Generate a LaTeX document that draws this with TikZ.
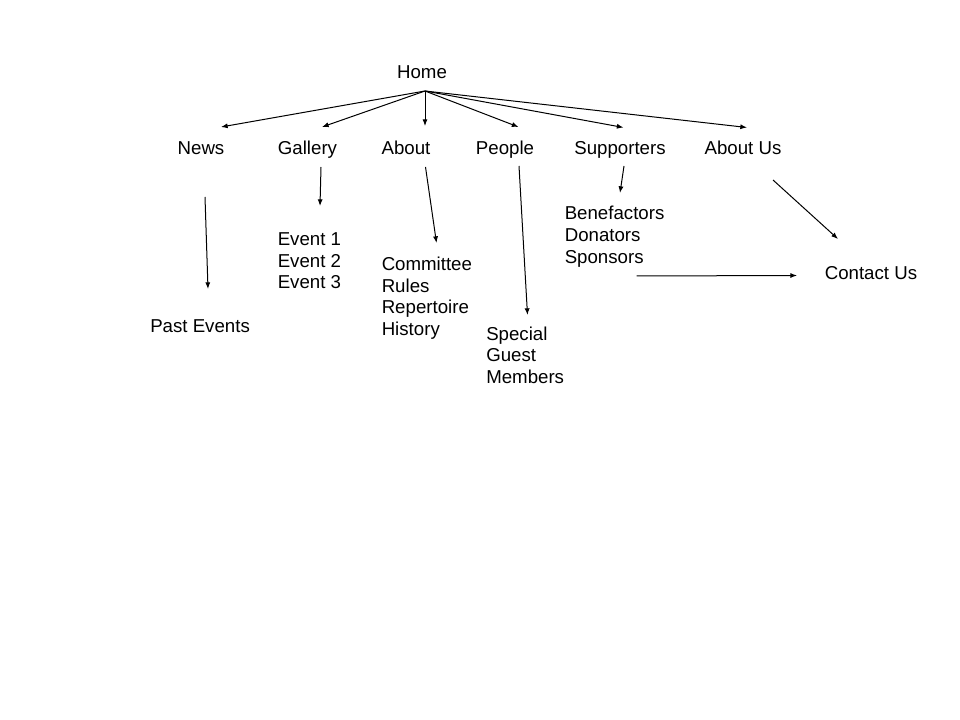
\documentclass[tikz,border=0pt]{standalone}
\usepackage{fontspec}
\setmainfont{Liberation Sans}
\usetikzlibrary{arrows.meta}
\begin{document}
\begin{tikzpicture}[x=0.75pt,y=-0.75pt,
  lbl/.style={inner sep=0pt,font=\fontsize{14}{16}\selectfont},
  ll/.style={lbl,anchor=base west},
  lc/.style={lbl,anchor=base},
  arr/.style={-{Latex[length=5pt,width=3.8pt]},line width=0.75pt}]
\useasboundingbox[fill=white] (0,0) rectangle (960,720);
% texts
\node[lc] (home) at (422,78.5) {Home};
\node[lc] (news) at (201,155) {News};
\node[lc] (gallery) at (307.5,155) {Gallery};
\node[lc] (about) at (406,155) {About};
\node[lc] (people) at (505,155) {People};
\node[lc] (supp) at (620,155) {Supporters};
\node[lc] (aboutus) at (743,155) {About Us};
\node[ll] (past) at (150,332) {Past Events};
\node[ll] (ev1) at (277.5,246) {Event 1};
\node[ll] (ev2) at (277.5,267.5) {Event 2};
\node[ll] (ev3) at (277.5,289) {Event 3};
\node[ll] (comm) at (381.5,271) {Committee};
\node[ll] (rules) at (381.5,292.5) {Rules};
\node[ll] (rep) at (381.5,314) {Repertoire};
\node[ll] (hist) at (381.5,335.5) {History};
\node[ll] (spec) at (486,340) {Special};
\node[ll] (guest) at (486,361.5) {Guest};
\node[ll] (memb) at (486,383) {Members};
\node[ll] (bene) at (564.5,220) {Benefactors};
\node[ll] (don) at (564.5,242) {Donators};
\node[ll] (spons) at (564.5,264) {Sponsors};
\node[ll] (contact) at (824.5,280) {Contact Us};
% connector end points
\coordinate (h0) at (425,91);
\coordinate (hNews) at (221,127);
\coordinate (hGal) at (322,127);
\coordinate (hAbout) at (425,126);
\coordinate (hPeople) at (518.5,127);
\coordinate (hSupp) at (623.5,127.5);
\coordinate (hAbUs) at (747,127.5);
\coordinate (n1) at (205,197);
\coordinate (n2) at (208,289);
\coordinate (g1) at (321,167);
\coordinate (g2) at (320,206);
\coordinate (a1) at (425.5,167);
\coordinate (a2) at (436.5,243);
\coordinate (p1) at (519,166);
\coordinate (p2) at (527.5,315);
\coordinate (s1) at (624,166);
\coordinate (s2) at (620,193);
\coordinate (u1) at (773,180);
\coordinate (u2) at (838,239);
\coordinate (sp1) at (636.5,276);
\coordinate (sp2) at (797,275.5);
% connectors
\draw[arr] (h0) -- (hNews);
\draw[arr] (h0) -- (hGal);
\draw[arr] (h0) -- (hAbout);
\draw[arr] (h0) -- (hPeople);
\draw[arr] (h0) -- (hSupp);
\draw[arr] (h0) -- (hAbUs);
\draw[arr] (n1) -- (n2);
\draw[arr] (g1) -- (g2);
\draw[arr] (a1) -- (a2);
\draw[arr] (p1) -- (p2);
\draw[arr] (s1) -- (s2);
\draw[arr] (u1) -- (u2);
\draw[arr] (sp1) -- (sp2);
\end{tikzpicture}
\end{document}
